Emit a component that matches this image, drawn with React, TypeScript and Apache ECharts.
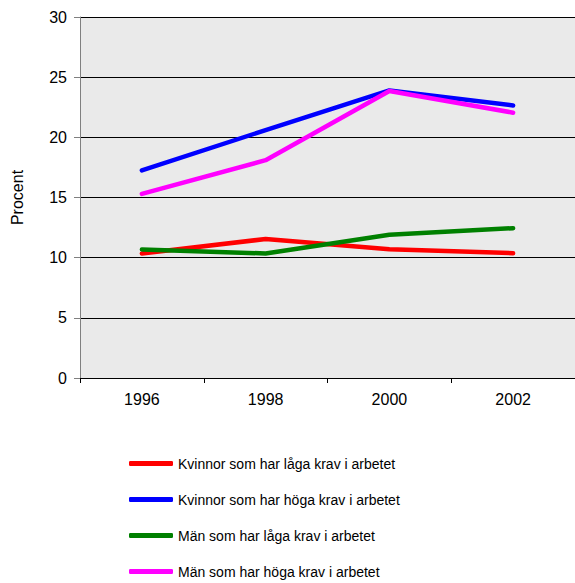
import React, { useEffect, useRef } from "react";
import * as echarts from "echarts";

const years = ["1996", "1998", "2000", "2002"];
const kvinnorLaga = [10.35, 11.55, 10.7, 10.37];
const kvinnorHoga = [17.25, 20.6, 23.9, 22.65];
const manLaga = [10.68, 10.35, 11.9, 12.45];
const manHoga = [15.3, 18.1, 23.85, 22.05];
const seriesNames = [
  "Kvinnor som har låga krav i arbetet",
  "Kvinnor som har höga krav i arbetet",
  "Män som har låga krav i arbetet",
  "Män som har höga krav i arbetet",
];
const seriesColors = ["#FF0000", "#0000FF", "#008000", "#FF00FF"];

const FONT = "'Liberation Sans', Arial, sans-serif";

export default function App() {
  const ref = useRef<HTMLDivElement>(null);
  useEffect(() => {
    if (!ref.current) return;
    const chart = echarts.init(ref.current, undefined, { renderer: "svg" });
    const data = [kvinnorLaga, kvinnorHoga, manLaga, manHoga];
    chart.setOption({
      animation: false,
      backgroundColor: "#FFFFFF",
      textStyle: { fontFamily: FONT },
      grid: {
        left: 80,
        top: 17,
        width: 501,
        height: 361,
        show: true,
        backgroundColor: "#EAEAEA",
        borderWidth: 0,
      },
      legend: {
        orient: "vertical",
        left: 129,
        top: 455,
        bottom: 0,
        padding: 0,
        itemWidth: 44,
        itemHeight: 5,
        itemGap: 19,
        icon: "roundRect",
        textStyle: { fontFamily: FONT, fontSize: 14, lineHeight: 17, color: "#000" },
        data: seriesNames,
      },
      xAxis: {
        type: "category",
        data: years,
        boundaryGap: true,
        axisLine: { lineStyle: { color: "#000", width: 1 } },
        axisTick: { show: true, length: 5, lineStyle: { color: "#000" } },
        axisLabel: { fontSize: 16, color: "#000", margin: 13, fontFamily: FONT },
        splitLine: { show: false },
      },
      yAxis: {
        type: "value",
        min: 0,
        max: 30,
        interval: 5,
        name: "Procent",
        nameLocation: "middle",
        nameGap: 55,
        nameRotate: 90,
        nameTextStyle: { fontSize: 16, color: "#000", fontFamily: FONT },
        axisLine: { show: true, lineStyle: { color: "#808080", width: 1 } },
        axisTick: { show: true, length: 6, lineStyle: { color: "#808080" } },
        axisLabel: { fontSize: 16, color: "#000", margin: 13, fontFamily: FONT },
        splitLine: { show: true, lineStyle: { color: "#000", width: 1 } },
      },
      series: seriesNames.map((name, i) => ({
        name,
        type: "line",
        data: data[i],
        showSymbol: false,
        symbol: "none",
        color: seriesColors[i],
        lineStyle: { width: 4.5, color: seriesColors[i], cap: "round", join: "round" },
        z: 2 + (i === 3 ? 1 : 0),
      })),
    });
    return () => chart.dispose();
  }, []);
  return <div ref={ref} style={{ width: 575, height: 583, position: "absolute", left: 0, top: 0 }} />;
}
